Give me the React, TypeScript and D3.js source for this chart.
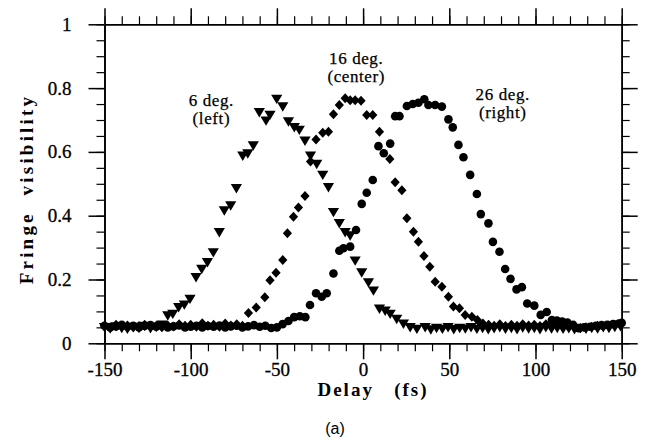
import React, { useEffect, useRef } from "react";
import * as d3 from "d3";

// 6 deg. (left) - triangles  [delay fs, visibility]
const leftSeries: [number, number][] = [
  [-150, 0.052], [-146.7, 0.048], [-143.3, 0.055], [-140, 0.05], [-136.7, 0.047],
  [-133.3, 0.053], [-130, 0.05], [-126.7, 0.056], [-123.3, 0.049], [-120, 0.053],
  [-116.7, 0.06], [-113.3, 0.089], [-110.4, 0.094], [-107, 0.115], [-103.7, 0.123],
  [-100.4, 0.141], [-96.9, 0.209], [-93.6, 0.235], [-90.3, 0.256], [-86.9, 0.287],
  [-83.4, 0.35], [-80.5, 0.418], [-76.8, 0.434], [-73.5, 0.488], [-69.8, 0.59],
  [-66.9, 0.597], [-63.7, 0.622], [-60.2, 0.726], [-56.3, 0.7], [-54, 0.718],
  [-50.1, 0.768], [-46.6, 0.744], [-43.3, 0.697], [-39.9, 0.679], [-37, 0.671],
  [-33.7, 0.637], [-30.5, 0.59], [-26.9, 0.564], [-23.4, 0.53], [-20.1, 0.491],
  [-17.2, 0.413], [-13.8, 0.378], [-10.4, 0.35], [-7.5, 0.34], [-4.6, 0.261],
  [-0.8, 0.224], [3.1, 0.193], [6, 0.167], [9.5, 0.11], [12.8, 0.104],
  [15.7, 0.094], [19.5, 0.078], [23.4, 0.063], [27.3, 0.052], [31.2, 0.047],
  [36, 0.052], [39.3, 0.045], [42.6, 0.05], [46, 0.047], [49.3, 0.052],
  [52.6, 0.046], [56, 0.05], [59.3, 0.048], [62.6, 0.052], [66, 0.047],
  [69.3, 0.05], [72.6, 0.046], [76, 0.049], [79.3, 0.052], [82.6, 0.047],
  [86, 0.05], [89.3, 0.046], [92.6, 0.051], [96, 0.048], [99.3, 0.05],
  [102.6, 0.046], [106, 0.052], [109.3, 0.048], [112.6, 0.05], [116, 0.047],
  [119.3, 0.049], [122.6, 0.046], [126, 0.05], [129.3, 0.047], [132.6, 0.05],
  [136, 0.048], [139.3, 0.052], [142.6, 0.05], [146, 0.053], [149.3, 0.055],
];

// 16 deg. (center) - diamonds
const centerSeries: [number, number][] = [
  [-150, 0.055], [-146.7, 0.05], [-143.3, 0.058], [-140, 0.052], [-136.7, 0.056],
  [-133.3, 0.05], [-130, 0.054], [-126.7, 0.058], [-123.3, 0.052], [-120, 0.055],
  [-116.7, 0.05], [-113.3, 0.056], [-110, 0.053], [-106.7, 0.06], [-103.3, 0.055],
  [-100, 0.058], [-96.7, 0.052], [-93.3, 0.063], [-90, 0.055], [-86.7, 0.058],
  [-83.3, 0.052], [-80, 0.062], [-76.7, 0.056], [-73.3, 0.06], [-70, 0.055],
  [-66.5, 0.095], [-62, 0.112], [-57, 0.144], [-54, 0.198], [-50.5, 0.221],
  [-46.6, 0.261], [-43.9, 0.345], [-40.4, 0.397], [-37.5, 0.426], [-33.7, 0.462],
  [-30.5, 0.57], [-27.3, 0.639], [-23.4, 0.66], [-20.1, 0.663], [-17.2, 0.718],
  [-13.8, 0.747], [-10.4, 0.768], [-7.5, 0.762], [-4.6, 0.762], [-1.2, 0.76],
  [2.1, 0.716], [5.6, 0.716], [9.5, 0.663], [15.5, 0.578], [18.6, 0.505],
  [22.5, 0.48], [25.4, 0.392], [29.2, 0.35], [32.1, 0.318], [35.3, 0.274],
  [38.7, 0.24], [41.8, 0.193], [45.7, 0.177], [49.5, 0.146], [52.4, 0.115],
  [55.9, 0.11], [59.2, 0.089], [63.1, 0.083], [66.3, 0.073], [69.5, 0.062],
  [72.8, 0.058], [76, 0.055], [79.3, 0.06], [82.6, 0.054], [86, 0.058],
  [89.3, 0.055], [92.6, 0.06], [96, 0.056], [99.3, 0.058], [102.6, 0.054],
  [106, 0.06], [109.3, 0.056], [112.6, 0.058], [116, 0.055], [119.3, 0.052],
  [122.6, 0.05], [126, 0.048], [129.3, 0.05], [132.6, 0.052], [136, 0.055],
  [139.3, 0.053], [142.6, 0.056], [146, 0.058], [149.3, 0.06],
];

// 26 deg. (right) - circles
const rightSeries: [number, number][] = [
  [-150, 0.055], [-146.7, 0.05], [-143.3, 0.053], [-140, 0.058], [-136.7, 0.052],
  [-133.3, 0.055], [-130, 0.05], [-126.7, 0.054], [-123.3, 0.057], [-120, 0.052],
  [-116.7, 0.055], [-113.3, 0.05], [-110, 0.053], [-106.7, 0.056], [-103.3, 0.05],
  [-100, 0.052], [-96.7, 0.055], [-93.3, 0.05], [-90, 0.054], [-86.7, 0.052],
  [-83.3, 0.056], [-80, 0.05], [-76.7, 0.053], [-73.3, 0.055], [-70, 0.05],
  [-66.7, 0.053], [-63.3, 0.057], [-60, 0.052], [-56.7, 0.055], [-53.3, 0.048],
  [-50, 0.05], [-46.7, 0.06], [-43.3, 0.07], [-40, 0.082], [-36.7, 0.085],
  [-33.5, 0.082], [-30.8, 0.12], [-27.3, 0.157], [-24, 0.146], [-21.1, 0.157],
  [-17.2, 0.219], [-13.8, 0.29], [-11.4, 0.298], [-7.5, 0.303], [-4.1, 0.355],
  [-0.8, 0.437], [2.1, 0.472], [5.6, 0.512], [8.9, 0.618], [12, 0.596],
  [15.7, 0.626], [18.6, 0.712], [21.1, 0.712], [25.4, 0.744], [28.8, 0.75],
  [32.1, 0.754], [35.5, 0.765], [37.9, 0.747], [41.8, 0.747], [45.7, 0.742],
  [49.5, 0.702], [52, 0.677], [55.3, 0.622], [58.2, 0.583], [62.1, 0.528],
  [66, 0.468], [68.3, 0.405], [72.7, 0.376], [75.3, 0.318], [79.1, 0.287],
  [82.4, 0.233], [85.5, 0.202], [89, 0.169], [92.1, 0.176], [95.2, 0.125],
  [99.3, 0.118], [103, 0.089], [106.5, 0.098], [109.5, 0.073], [112.4, 0.071],
  [115.5, 0.068], [118.5, 0.065], [121.8, 0.058], [125, 0.047], [128.3, 0.05],
  [131.7, 0.052], [135, 0.055], [138.3, 0.057], [141.6, 0.058], [145, 0.06],
  [148.3, 0.062], [150, 0.064],
];

const xMajorTicks = [-150, -100, -50, 0, 50, 100, 150];
const xMinorTicks = d3.range(-150, 151, 10);
const yMajorTicks = [0, 0.2, 0.4, 0.6, 0.8, 1];
const yMinorTicks = d3.range(0, 1.001, 0.05);

const annotations = [
  { line1: "6 deg.", line2: "(left)", x: -88, y: 0.745 },
  { line1: "16 deg.", line2: "(center)", x: -4, y: 0.877 },
  { line1: "26 deg.", line2: "(right)", x: 81, y: 0.763 },
];

const W = 647;
const H = 441;
const plot = { left: 104.5, right: 621.7, top: 24.3, bottom: 343.3 };

const App = () => {
  const svgRef = useRef<SVGSVGElement>(null);

  useEffect(() => {
    const svg = d3.select(svgRef.current);
    svg.selectAll("*").remove();

    const x = d3.scaleLinear().domain([-150, 150]).range([plot.left, plot.right]);
    const y = d3.scaleLinear().domain([0, 1]).range([plot.bottom, plot.top]);

    const serif = "'Liberation Serif', 'Times New Roman', serif";

    function styleAxis(g: any, major: boolean) {
      g.selectAll(".domain").attr("stroke", "black").attr("stroke-width", 1.6);
      g.selectAll(".tick line").attr("stroke", "black").attr("stroke-width", major ? 1.5 : 1.2);
      g.selectAll(".tick text")
        .attr("font-family", serif)
        .attr("font-size", 19)
        .attr("fill", "black")
        .attr("stroke", "black")
        .attr("stroke-width", 0.3);
    }

    // minor ticks, all four sides, outward
    const minorAxes: [any, string][] = [
      [d3.axisBottom(x).tickValues(xMinorTicks), `translate(0,${plot.bottom})`],
      [d3.axisTop(x).tickValues(xMinorTicks), `translate(0,${plot.top})`],
      [d3.axisLeft(y).tickValues(yMinorTicks), `translate(${plot.left},0)`],
      [d3.axisRight(y).tickValues(yMinorTicks), `translate(${plot.right},0)`],
    ];
    minorAxes.forEach(([axis, tr]) => {
      const g = svg
        .append("g")
        .attr("transform", tr)
        .call(axis.tickSize(8).tickSizeOuter(0).tickFormat(() => ""));
      styleAxis(g, false);
    });

    // major ticks
    const bottom = svg
      .append("g")
      .attr("transform", `translate(0,${plot.bottom})`)
      .call(d3.axisBottom(x).tickValues(xMajorTicks).tickSize(16).tickSizeOuter(0).tickPadding(3).tickFormat((d: any) => String(d)));
    styleAxis(bottom, true);
    const top = svg
      .append("g")
      .attr("transform", `translate(0,${plot.top})`)
      .call(d3.axisTop(x).tickValues(xMajorTicks).tickSize(16).tickSizeOuter(0).tickFormat(() => ""));
    styleAxis(top, true);
    const left = svg
      .append("g")
      .attr("transform", `translate(${plot.left},0)`)
      .call(d3.axisLeft(y).tickValues(yMajorTicks).tickSize(16).tickSizeOuter(0).tickPadding(17).tickFormat((d: any) => String(d)));
    styleAxis(left, true);
    const right = svg
      .append("g")
      .attr("transform", `translate(${plot.right},0)`)
      .call(d3.axisRight(y).tickValues(yMajorTicks).tickSize(16).tickSizeOuter(0).tickFormat(() => ""));
    styleAxis(right, true);

    // data
    const marks = svg.append("g").attr("fill", "black");

    marks
      .selectAll("path.tri")
      .data(leftSeries)
      .join("path")
      .attr("class", "tri")
      .attr("transform", (d) => `translate(${x(d[0])},${y(d[1])})`)
      .attr("d", "M-5.6,-3.6L5.6,-3.6L0,5.8Z");

    marks
      .selectAll("path.dia")
      .data(centerSeries)
      .join("path")
      .attr("class", "dia")
      .attr("transform", (d) => `translate(${x(d[0])},${y(d[1])})`)
      .attr("d", "M0,-5L4.6,0L0,5L-4.6,0Z");

    marks
      .selectAll("circle")
      .data(rightSeries)
      .join("circle")
      .attr("cx", (d) => x(d[0]))
      .attr("cy", (d) => y(d[1]))
      .attr("r", 4.3);

    // annotations
    const ann = svg
      .append("g")
      .attr("font-family", serif)
      .attr("font-size", 17)
      .attr("letter-spacing", 0.6)
      .attr("fill", "black")
      .attr("stroke", "black")
      .attr("stroke-width", 0.25)
      .attr("text-anchor", "middle");
    annotations.forEach((a) => {
      ann.append("text").attr("x", x(a.x)).attr("y", y(a.y)).text(a.line1);
      ann.append("text").attr("x", x(a.x)).attr("y", y(a.y) + 18).text(a.line2);
    });

    // axis titles
    svg
      .append("text")
      .attr("x", 373)
      .attr("y", 396)
      .attr("text-anchor", "middle")
      .attr("font-family", serif)
      .attr("font-weight", "bold")
      .attr("font-size", 19)
      .attr("letter-spacing", 2)
      .attr("xml:space", "preserve")
      .text("Delay   (fs)");

    svg
      .append("text")
      .attr("transform", `translate(33,189) rotate(-90)`)
      .attr("text-anchor", "middle")
      .attr("font-family", serif)
      .attr("font-weight", "bold")
      .attr("font-size", 19)
      .attr("letter-spacing", 3.2)
      .attr("xml:space", "preserve")
      .text("Fringe  visibility");

    svg
      .append("text")
      .attr("x", 335)
      .attr("y", 434)
      .attr("text-anchor", "middle")
      .attr("font-family", "'Liberation Sans', Arial, sans-serif")
      .attr("font-size", 16)
      .text("(a)");
  }, []);

  return (
    <svg
      ref={svgRef}
      width={W}
      height={H}
      style={{ position: "absolute", left: 0, top: 0, background: "white" }}
    />
  );
};

export default App;
